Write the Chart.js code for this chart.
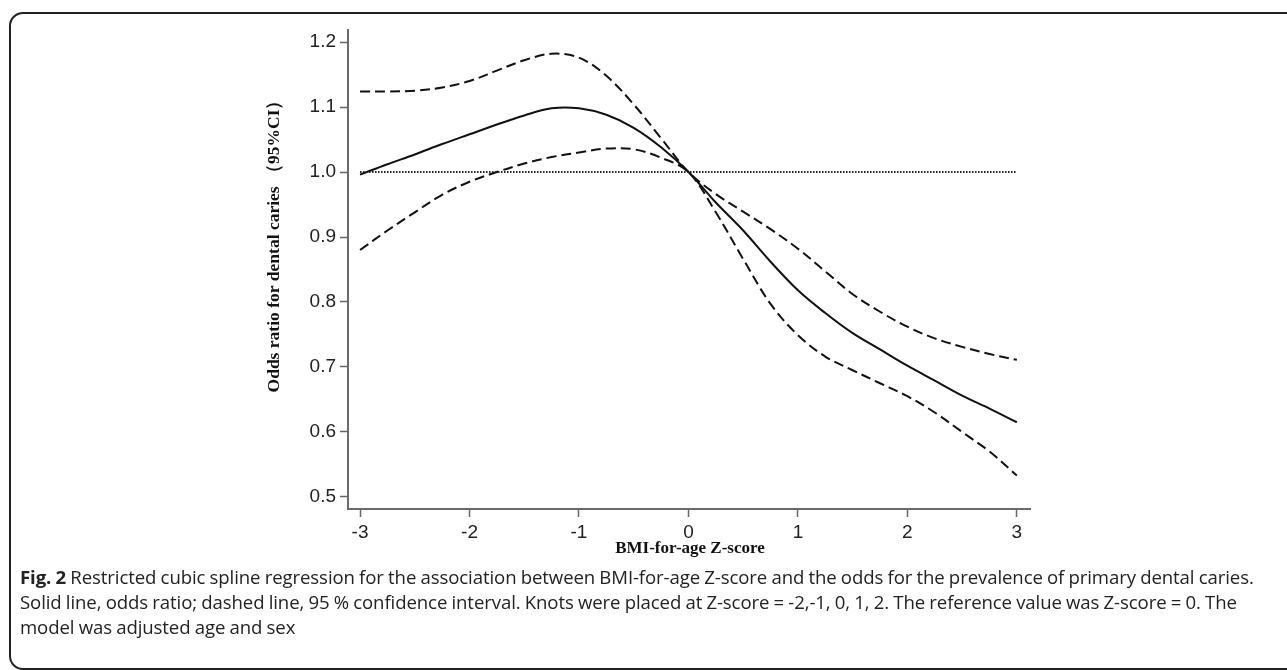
<!DOCTYPE html>
<html>
<head>
<meta charset="utf-8">
<script src="https://cdn.jsdelivr.net/npm/chart.js@4"></script>
<style>
  body { margin: 0; background: #fff; width: 1287px; height: 670px; overflow: hidden; position: relative; }
  .c-frame { position: absolute; left: 9px; top: 12px; width: 1300px; height: 654px; border: 2px solid #222; border-radius: 14px; }
  .c-chart { position: absolute; left: 0; top: 0; width: 1287px; height: 570px; }
  .c-caption { position: absolute; left: 20px; top: 564px; font-family: 'Open Sans', sans-serif; font-size: 18.6px; line-height: 25px; color: #222; white-space: nowrap; letter-spacing: -0.1px; word-spacing: -0.5px; }
  .c-caption b { font-weight: 700; }
</style>
</head>
<body>
<div class="c-frame"></div>
<div class="c-chart"><canvas id="myChart" width="1287" height="570"></canvas></div>
<div class="c-caption">
  <b>Fig. 2</b> Restricted cubic spline regression for the association between BMI-for-age Z-score and the odds for the prevalence of primary dental caries.<br>
  Solid line, odds ratio; dashed line, 95 % confidence interval. Knots were placed at Z-score = -2,-1, 0, 1, 2. The reference value was Z-score = 0. The<br>
  model was adjusted age and sex
</div>
<script>
// BMI-for-age Z-score positions
const zScores = [-3, -2.75, -2.5, -2.25, -2, -1.75, -1.5, -1.25, -1, -0.75, -0.5, -0.25, 0,
  0.25, 0.5, 0.75, 1, 1.25, 1.5, 1.75, 2, 2.25, 2.5, 2.75, 3];
const oddsRatio = [0.996, 1.012, 1.027, 1.043, 1.058, 1.073, 1.087, 1.098, 1.098, 1.088, 1.068, 1.038, 1.0,
  0.953, 0.91, 0.862, 0.818, 0.783, 0.752, 0.727, 0.702, 0.679, 0.656, 0.636, 0.615];
const upperCI = [1.124, 1.124, 1.125, 1.13, 1.14, 1.156, 1.172, 1.182, 1.176, 1.148, 1.104, 1.052, 1.0,
  0.966, 0.939, 0.912, 0.882, 0.847, 0.812, 0.785, 0.762, 0.744, 0.731, 0.72, 0.711];
const lowerCI = [0.88, 0.91, 0.938, 0.965, 0.985, 1.0, 1.013, 1.023, 1.03, 1.036, 1.035, 1.022, 1.0,
  0.938, 0.866, 0.797, 0.749, 0.716, 0.695, 0.675, 0.655, 0.63, 0.6, 0.57, 0.533];
const refZ = [-3, 3];
const refValue = [1, 1];
const yTicks = [0.5, 0.6, 0.7, 0.8, 0.9, 1.0, 1.1, 1.2];
const xTicks = [-3, -2, -1, 0, 1, 2, 3];

const toPoints = function (xs, ys) {
  return xs.map((x, i) => ({ x: x, y: ys[i] }));
};

// axis titles drawn by hand so they sit where the reference has them
const axisTitles = {
  id: 'axisTitles',
  afterDraw(chart) {
    const { ctx } = chart;
    ctx.save();
    ctx.fillStyle = '#111';
    ctx.font = 'bold 17px "Liberation Serif", "Times New Roman", serif';
    ctx.textAlign = 'center';
    ctx.textBaseline = 'middle';
    ctx.fillText('BMI-for-age Z-score', 690, 549);
    ctx.font = 'bold 17.5px "Liberation Serif", "Times New Roman", serif';
    ctx.translate(274, 242);
    ctx.rotate(-Math.PI / 2);
    ctx.fillText('Odds ratio for dental caries （95%CI）', 0, 0);
    ctx.restore();
  },
};

const makeChart = function () {
  const data = {
    datasets: [
      {
        label: 'Reference',
        data: toPoints(refZ, refValue),
        borderColor: '#222',
        borderWidth: 2,
        borderDash: [1.5, 1.5],
      },
      {
        label: 'Upper 95% CI',
        data: toPoints(zScores, upperCI),
        borderColor: '#111',
        borderWidth: 2,
        borderDash: [10, 5],
        tension: 0.35,
      },
      {
        label: 'Lower 95% CI',
        data: toPoints(zScores, lowerCI),
        borderColor: '#111',
        borderWidth: 2,
        borderDash: [10, 5],
        tension: 0.35,
      },
      {
        label: 'Odds ratio',
        data: toPoints(zScores, oddsRatio),
        borderColor: '#111',
        borderWidth: 2,
        tension: 0.35,
      },
    ],
  };

  const tickFont = { family: '"Liberation Sans", Arial, sans-serif', size: 19 };

  const config = {
    type: 'line',
    data,
    options: {
      responsive: false,
      animation: false,
      layout: { padding: { left: 0, top: 30, right: 257, bottom: 0 } },
      elements: { point: { radius: 0 } },
      plugins: { legend: { display: false }, tooltip: { enabled: false } },
      scales: {
        x: {
          type: 'linear',
          min: -3.11,
          max: 3.12,
          afterFit(scale) { scale.height = 61; },
          afterBuildTicks(scale) { scale.ticks = xTicks.map((v) => ({ value: v })); },
          ticks: { font: tickFont, color: '#222', padding: 4, callback: (v) => String(v) },
          grid: { drawOnChartArea: false, drawTicks: true, tickLength: 8, tickColor: '#666', tickWidth: 1.5 },
          border: { display: true, color: '#6a6a6a', width: 2 },
        },
        y: {
          type: 'linear',
          min: 0.4815,
          max: 1.2185,
          afterFit(scale) { scale.width = 348; },
          afterBuildTicks(scale) { scale.ticks = yTicks.map((v) => ({ value: v })); },
          ticks: { font: tickFont, color: '#222', padding: 4, callback: (v) => v.toFixed(1) },
          grid: { drawOnChartArea: false, drawTicks: true, tickLength: 8, tickColor: '#666', tickWidth: 1.5 },
          border: { display: true, color: '#6a6a6a', width: 2 },
        },
      },
    },
    plugins: [axisTitles],
  };

  new Chart(document.getElementById('myChart'), config);
};

document.addEventListener('DOMContentLoaded', makeChart);
</script>
</body>
</html>
